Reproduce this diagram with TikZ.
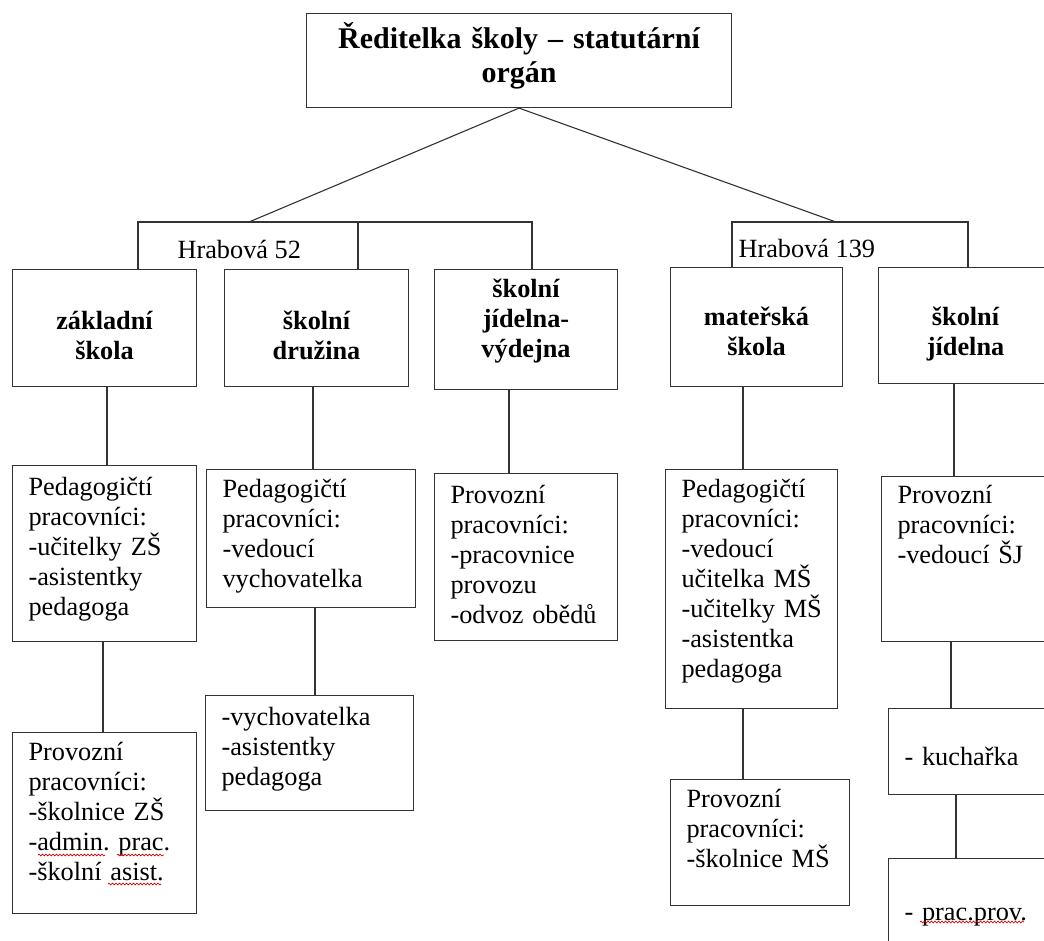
\documentclass[tikz,border=0pt]{standalone}
\usepackage{fontspec}
\setmainfont{Liberation Serif}
\usetikzlibrary{decorations.pathmorphing}
\frenchspacing
\newcommand{\bodyfont}{\fontsize{26.3}{30}\selectfont}
\newcommand{\titlefont}{\fontsize{30}{34}\selectfont\bfseries}
\begin{document}
\begin{tikzpicture}[x=1pt,y=-1pt,line width=1.1pt,%
        every node/.style={font=\bodyfont}, link/.style={draw=black!80},%
        head/.style n args={3}{draw=black!80, anchor=north west,
          align=center, font=\bodyfont\bfseries, inner sep=0pt, text
          width=#1, text height=#2, text depth=#3},%
        staff/.style n args={3}{draw=black!80, anchor=north west,
          align=left, inner xsep=16pt, inner ysep=0pt, text width=#1, text
          height=#2, text depth=#3},%
        addr/.style={anchor=base west, inner sep=0pt},%
        spell/.style={draw=red!85!black, line width=0.7pt, decorate,
          decoration={snake, amplitude=0.9pt, segment length=3.5pt}}]%
        \useasboundingbox (0,0) rectangle (1044,941);
        \clip (0,0) rectangle (1044,941);
        \node[head={425pt}{35pt}{59pt}, font=\titlefont] (title) at
        (306,13) {Ředitelka školy – statutární\\orgán};
        \node[head={184pt}{60pt}{57pt}] (zs) at (12,269) {základní\\škola};
        \node[head={184pt}{60pt}{57pt}] (dr) at (224,269) {školní\\družina};
        \node[head={183pt}{28pt}{92pt}] (vd) at (434,269)
        {školní\\jídelna-\\výdejna}; \node[head={172pt}{58pt}{61pt}] (ms)
        at (670,267) {mateřská\\škola}; \node[head={174pt}{58pt}{58pt}]
        (sj) at (878,267) {školní\\jídelna};
        \node[addr] (a52) at (177,259) {Hrabová 52}; \node[addr] (a139) at
        (738,258) {Hrabová 139};
        \node[staff={152pt}{30pt}{146pt}] (zsped) at (12,465)
        {Pedagogičtí\\pracovníci:\\\mbox{-učitelky~ZŠ}\\-asistentky\\pedagoga};
        \node[staff={152pt}{28pt}{153pt}] (zsprov) at (12,732)
        {Provozní\\pracovníci:\\\mbox{-školnice~ZŠ}\\-admin. prac.\\-školní asist.};
        \node[staff={177pt}{28pt}{110pt}] (drped) at (206,469)
        {Pedagogičtí\\pracovníci:\\-vedoucí\\vychovatelka};
        \node[staff={176pt}{30pt}{85pt}] (vych) at (205,695)
        {-vychovatelka\\-asistentky\\pedagoga};
        \node[staff={151pt}{30pt}{137pt}] (vdprov) at (434,473)
        {Provozní\\pracovníci:\\-pracovnice\\provozu\\-odvoz obědů};
        \node[staff={140pt}{28pt}{211pt}] (msped) at (665,469)
        {Pedagogičtí\\pracovníci:\\-vedoucí\\\mbox{učitelka~MŠ}\\\mbox{-učitelky~MŠ}\\-asistentka\\pedagoga};
        \node[staff={147pt}{28pt}{98pt}] (msprov) at (670,779)
        {Provozní\\pracovníci:\\\mbox{-školnice~MŠ}};
        \node[staff={148pt}{27pt}{138pt}] (sjprov) at (881,476)
        {Provozní\\pracovníci:\\-vedoucí~ŠJ};
        \node[staff={148pt}{57pt}{29pt}] (kuch) at (888,708) {- kuchařka};
        \node[staff={148pt}{62pt}{60pt}] (pprov) at (888,858) {- prac.prov.};
        \coordinate (j52) at (249,222); \coordinate (j139) at (836,222);
        \draw[link] (title.south) -- (j52); \draw[link] (title.south) -- (j139);
        \draw[link] (138,0 |- zs.north) -- (138,222) -- (532,222) -- (532,0 |- vd.north);
        \draw[link] (358,222) -- (358,0 |- dr.north);
        \draw[link] (732,0 |- ms.north) -- (732,222) -- (968,222) -- (968,0 |- sj.north);
        \draw[link] (107,0 |- zs.south) -- (107,0 |- zsped.north);
        \draw[link] (103,0 |- zsped.south) -- (103,0 |- zsprov.north);
        \draw[link] (313,0 |- dr.south) -- (313,0 |- drped.north);
        \draw[link] (315,0 |- drped.south) -- (315,0 |- vych.north);
        \draw[link] (509,0 |- vd.south) -- (509,0 |- vdprov.north);
        \draw[link] (743,0 |- ms.south) -- (743,0 |- msped.north);
        \draw[link] (743,0 |- msped.south) -- (743,0 |- msprov.north);
        \draw[link] (954,0 |- sj.south) -- (954,0 |- sjprov.north);
        \draw[link] (951,0 |- sjprov.south) -- (951,0 |- kuch.north);
        \draw[link] (956,0 |- kuch.south) -- (956,0 |- pprov.north);
        \draw[spell] (38,855) -- (105,855); \draw[spell] (117,855) -- (164,855);
        \draw[spell] (108,884) -- (161,884); \draw[spell] (920,922) -- (1024,922);
      \end{tikzpicture}
\end{document}
